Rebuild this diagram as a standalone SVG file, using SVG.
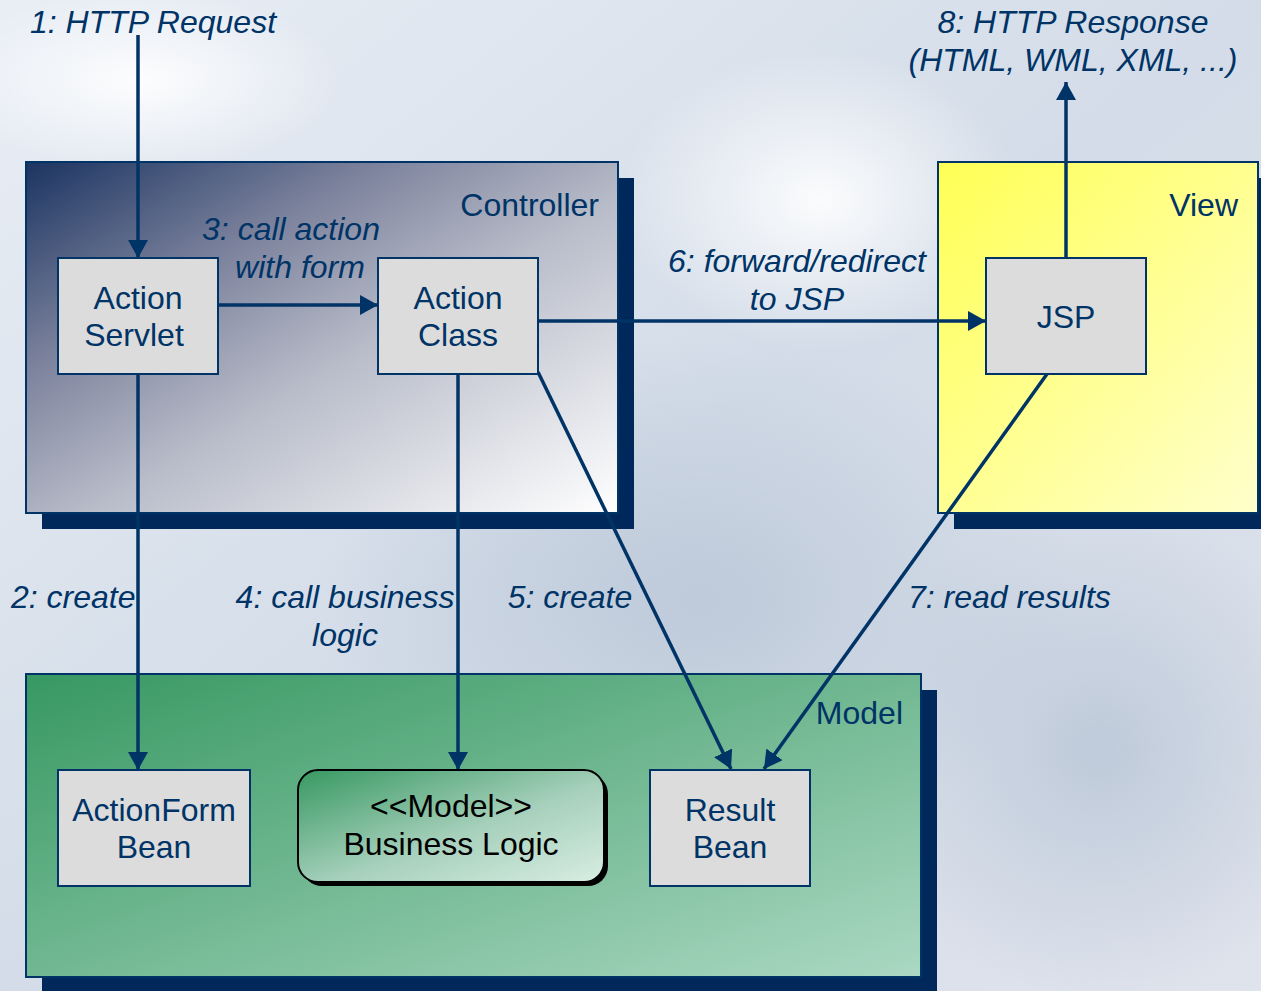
<svg xmlns="http://www.w3.org/2000/svg" width="1261" height="991" viewBox="0 0 1261 991">
<defs>
  <linearGradient id="bg" x1="0" y1="0" x2="1" y2="1">
    <stop offset="0" stop-color="#e9eef5"/>
    <stop offset="0.5" stop-color="#d3dce8"/>
    <stop offset="1" stop-color="#dfe3ec"/>
  </linearGradient>
  <radialGradient id="blob1" cx="0.5" cy="0.5" r="0.5">
    <stop offset="0" stop-color="#b8c5d6" stop-opacity="0.8"/>
    <stop offset="1" stop-color="#b8c5d6" stop-opacity="0"/>
  </radialGradient>
  <radialGradient id="blob2" cx="0.5" cy="0.5" r="0.5">
    <stop offset="0" stop-color="#ffffff" stop-opacity="0.9"/>
    <stop offset="1" stop-color="#ffffff" stop-opacity="0"/>
  </radialGradient>
  <linearGradient id="gCtrl" x1="0" y1="0" x2="1" y2="1">
    <stop offset="0" stop-color="#1b3461"/>
    <stop offset="0.3" stop-color="#7d839d"/>
    <stop offset="0.55" stop-color="#b8bcc9"/>
    <stop offset="1" stop-color="#ffffff"/>
  </linearGradient>
  <linearGradient id="gView" x1="0" y1="0" x2="1" y2="1">
    <stop offset="0" stop-color="#ffff55"/>
    <stop offset="1" stop-color="#ffffcc"/>
  </linearGradient>
  <linearGradient id="gModel" x1="0" y1="0" x2="1" y2="1">
    <stop offset="0" stop-color="#379862"/>
    <stop offset="1" stop-color="#abd8c2"/>
  </linearGradient>
  <linearGradient id="gBL" x1="0" y1="0" x2="1" y2="1">
    <stop offset="0" stop-color="#379862"/>
    <stop offset="0.55" stop-color="#a6d0bb"/>
    <stop offset="1" stop-color="#d8ede3"/>
  </linearGradient>
  <marker id="arr" viewBox="0 0 18 20" refX="18" refY="10" markerWidth="18" markerHeight="20" markerUnits="userSpaceOnUse" orient="auto">
    <path d="M0,0 L18,10 L0,20 z" fill="#003366"/>
  </marker>
  <style>
    .shadow { fill: #00285a; }
    .panel { stroke: #003366; stroke-width: 2; }
    .node rect.box { fill: #dcdcdc; stroke: #003366; stroke-width: 2; }
    .ntext { font-family: "Liberation Sans", Arial, sans-serif; font-size: 32px; fill: #003366; text-anchor: middle; }
    .ptext { font-family: "Liberation Sans", Arial, sans-serif; font-size: 32px; fill: #003366; text-anchor: end; }
    .label { font-family: "Liberation Sans", Arial, sans-serif; font-size: 32px; font-style: italic; fill: #003366; }
    .conn { stroke: #003366; stroke-width: 3.5; fill: none; marker-end: url(#arr); }
  </style>
</defs>

<!-- background -->
<rect x="0" y="0" width="1261" height="991" fill="url(#bg)"/>
<ellipse cx="700" cy="600" rx="380" ry="260" fill="url(#blob1)"/>
<ellipse cx="1100" cy="750" rx="250" ry="250" fill="url(#blob1)"/>
<ellipse cx="820" cy="200" rx="200" ry="150" fill="url(#blob2)"/>
<ellipse cx="140" cy="80" rx="200" ry="90" fill="url(#blob2)"/>

<!-- panels -->
<g id="controller">
  <rect class="shadow" x="42" y="178" width="592" height="351"/>
  <rect class="panel" x="26" y="162" width="592" height="351" fill="url(#gCtrl)"/>
  <text class="ptext" x="599" y="216">Controller</text>
</g>
<g id="view">
  <rect class="shadow" x="954" y="178" width="320" height="351"/>
  <rect class="panel" x="938" y="162" width="320" height="351" fill="url(#gView)"/>
  <text class="ptext" x="1238" y="216">View</text>
</g>
<g id="model">
  <rect class="shadow" x="42" y="690" width="895" height="320"/>
  <rect class="panel" x="26" y="674" width="895" height="303" fill="url(#gModel)"/>
  <text class="ptext" x="903" y="724">Model</text>
</g>

<!-- connectors -->
<g id="connectors">
  <line class="conn" x1="138" y1="35" x2="138" y2="258"/>
  <line class="conn" x1="218" y1="305" x2="378" y2="305"/>
  <line class="conn" x1="538" y1="321" x2="986" y2="321"/>
  <line class="conn" x1="1066" y1="258" x2="1066" y2="82"/>
  <line class="conn" x1="138" y1="372" x2="138" y2="770"/>
  <line class="conn" x1="458" y1="372" x2="458" y2="770"/>
  <line class="conn" x1="538" y1="372" x2="731" y2="769"/>
  <line class="conn" x1="1047" y1="374" x2="764" y2="769"/>
  <text class="label" x="30" y="33">1: HTTP Request</text>
  <text class="label" x="1073" y="33" text-anchor="middle">8: HTTP Response</text>
  <text class="label" x="1073" y="71" text-anchor="middle">(HTML, WML, XML, ...)</text>
  <text class="label" x="291" y="240" text-anchor="middle">3: call action</text>
  <text class="label" x="300" y="278" text-anchor="middle">with form</text>
  <text class="label" x="797" y="272" text-anchor="middle">6: forward/redirect</text>
  <text class="label" x="797" y="310" text-anchor="middle">to JSP</text>
  <text class="label" x="11" y="608">2: create</text>
  <text class="label" x="345" y="608" text-anchor="middle">4: call business</text>
  <text class="label" x="345" y="646" text-anchor="middle">logic</text>
  <text class="label" x="570" y="608" text-anchor="middle">5: create</text>
  <text class="label" x="908" y="608">7: read results</text>
</g>

<!-- nodes -->
<g id="action-servlet" class="node">
  <rect class="box" x="58" y="258" width="160" height="116"/>
  <text class="ntext" x="138" y="309">Action</text>
  <text class="ntext" x="134" y="346">Servlet</text>
</g>
<g id="action-class" class="node">
  <rect class="box" x="378" y="258" width="160" height="116"/>
  <text class="ntext" x="458" y="309">Action</text>
  <text class="ntext" x="458" y="346">Class</text>
</g>
<g id="jsp" class="node">
  <rect class="box" x="986" y="258" width="160" height="116"/>
  <text class="ntext" x="1066" y="328">JSP</text>
</g>
<g id="actionform-bean" class="node">
  <rect class="box" x="58" y="770" width="192" height="116"/>
  <text class="ntext" x="154" y="821">ActionForm</text>
  <text class="ntext" x="154" y="858">Bean</text>
</g>
<g id="business-logic" class="node">
  <rect x="302" y="774" width="306" height="112" rx="20" ry="20" fill="#000"/>
  <rect x="298" y="770" width="306" height="112" rx="20" ry="20" fill="url(#gBL)" stroke="#000" stroke-width="2"/>
  <text class="ntext" x="451" y="817" style="fill:#000">&lt;&lt;Model&gt;&gt;</text>
  <text class="ntext" x="451" y="855" style="fill:#000">Business Logic</text>
</g>
<g id="result-bean" class="node">
  <rect class="box" x="650" y="770" width="160" height="116"/>
  <text class="ntext" x="730" y="821">Result</text>
  <text class="ntext" x="730" y="858">Bean</text>
</g>
</svg>
